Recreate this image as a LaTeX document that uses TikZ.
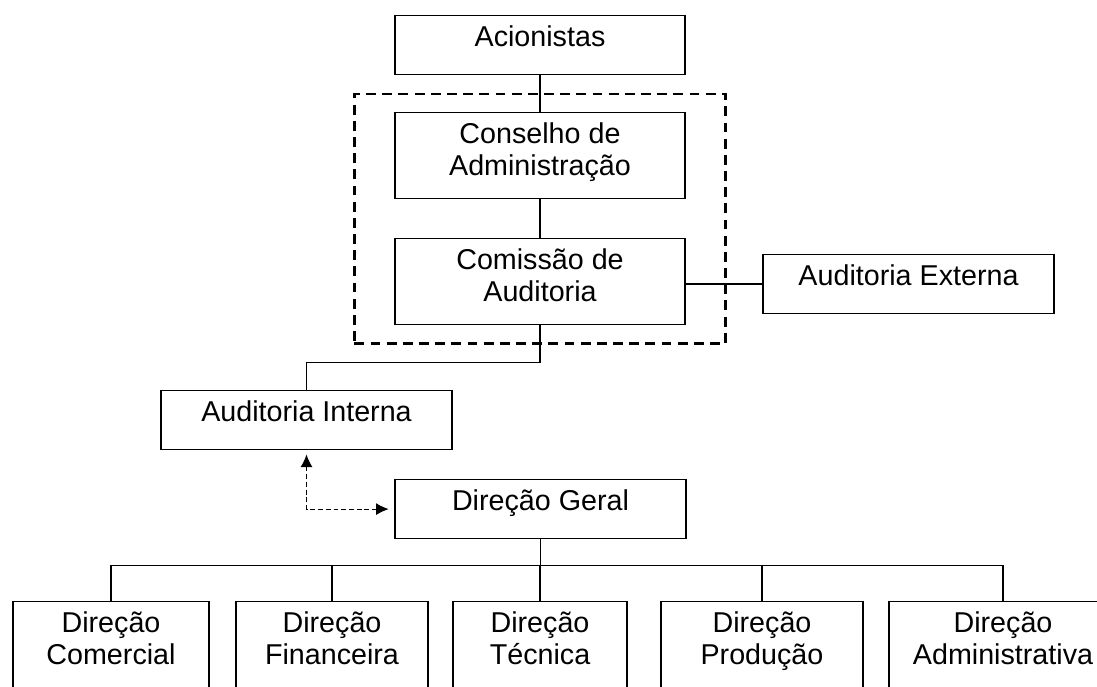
\documentclass[tikz,border=0pt]{standalone}
\usepackage{fontspec}
\setmainfont{Liberation Sans}
\usepackage{tikz}
\usetikzlibrary{arrows.meta, positioning, fit, calc}

\begin{document}
\begin{tikzpicture}[
    x=0.025cm, y=-0.025cm,
    font=\fontsize{20.4}{22.8}\selectfont,
    box/.style={draw, rectangle, anchor=north, inner sep=0pt, align=center, line width=0.9pt, text height=22pt, text depth=19.9pt},
    boxtwo/.style={box, text height=44.8pt, text depth=16.4pt},
    boxlow/.style={box, text height=44.8pt, text depth=80pt},
    dashbox/.style={draw, rectangle, line width=1.8pt, dash pattern=on 7pt off 4.5pt},
    link/.style={line width=0.9pt},
    dotlink/.style={line width=0.8pt, dash pattern=on 3.5pt off 2pt, {Latex[length=9pt,width=8.5pt]}-{Latex[length=9pt,width=8.5pt]}, shorten <=3pt, shorten >=4pt},
]
\clip (0,0) rectangle (1097,686);

% === TOPO ===
\node[box, minimum width=290*0.025cm] (acion) at (540,15) {Acionistas};
\node[boxtwo, minimum width=290*0.025cm] (conselho) at (540,112) {Conselho de\\Administração};
\node[boxtwo, minimum width=290*0.025cm] (comissao) at (540,238) {Comissão de\\Auditoria};
\node[box, minimum width=291*0.025cm] (audext) at (908.5,254) {Auditoria Externa};

% Orgaos de fiscalizacao
\node[dashbox, fit=(conselho)(comissao), inner xsep=1cm, inner ysep=0.45cm] (fiscal) {};

% === AUDITORIA / DIRECAO ===
\node[box, minimum width=291*0.025cm] (audint) at (306.5,390) {Auditoria Interna};
\node[box, minimum width=291*0.025cm] (dirgeral) at (540.5,479) {Direção Geral};

% Direcoes
\node[boxlow, minimum width=196*0.025cm] (dcom) at (111,601) {Direção\\Comercial};
\node[boxlow, minimum width=192*0.025cm] (dfin) at (332,601) {Direção\\Financeira};
\node[boxlow, minimum width=174*0.025cm] (dtec) at (540,601) {Direção\\Técnica};
\node[boxlow, minimum width=202*0.025cm] (dprod) at (762,601) {Direção\\Produção};
\node[boxlow, minimum width=228*0.025cm] (dadm) at (1003,601) {Direção\\Administrativa};

% Connections
\draw[link] (acion) -- (conselho);
\draw[link] (conselho) -- (comissao);
\draw[link] (audext.west -| comissao.east) -- (audext.west);
\draw[link] (comissao.south) -- ++(0,37) -| (audint.north);
\draw[dotlink] (audint.south) |- (dirgeral.west);

% Direcao Geral -> direcoes
\draw[link] (dirgeral.south) -- ++(0,26) coordinate (bar);
\foreach \d in {dcom, dfin, dtec, dprod, dadm}
    \draw[link] (bar) -| (\d.north);

\end{tikzpicture}
\end{document}
